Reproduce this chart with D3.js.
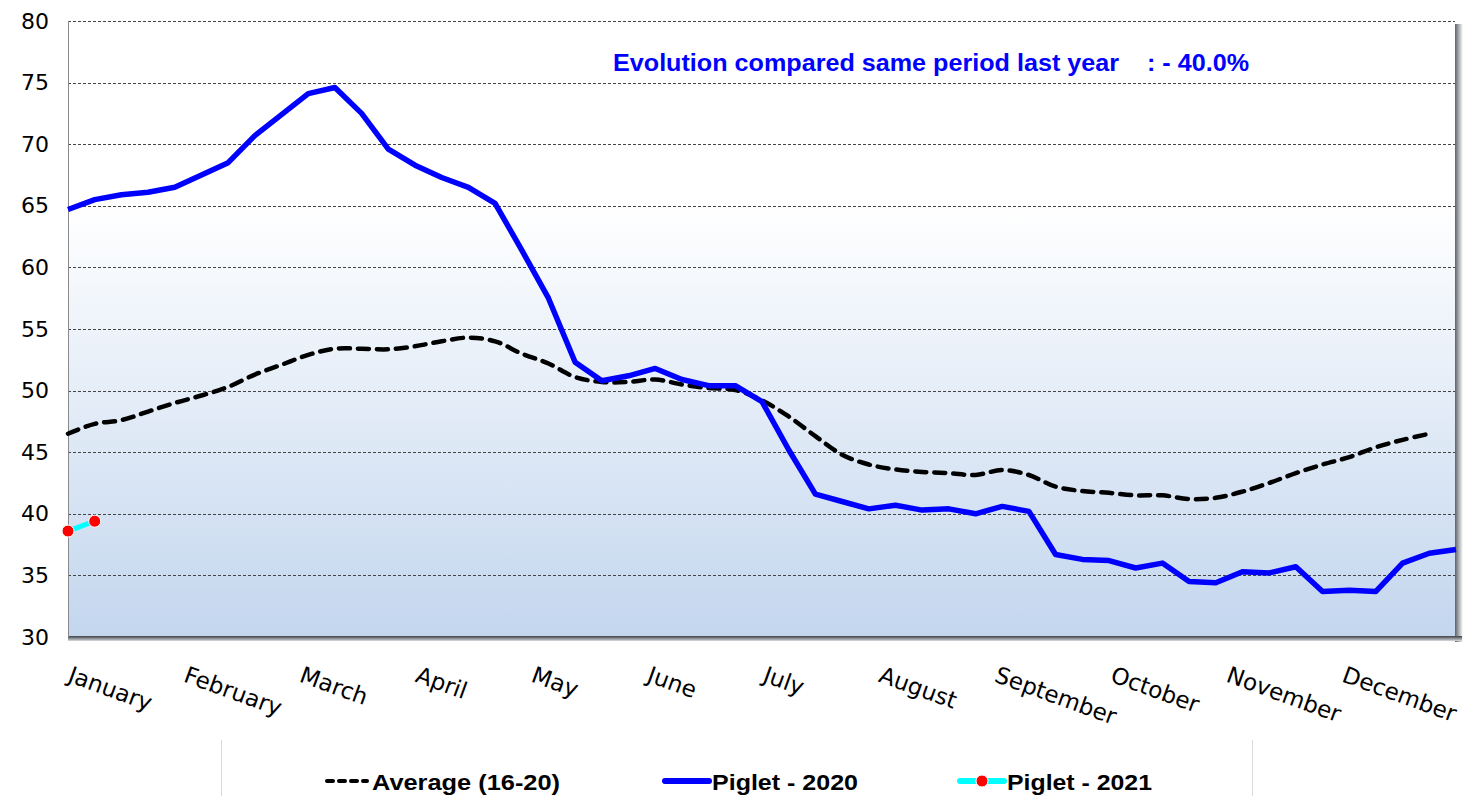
<!DOCTYPE html>
<head>
  <meta charset="utf-8">
  <script src="https://d3js.org/d3.v7.min.js"></script>
  <style>
    body { margin: 0; background: #fff; }
    .ytick text { font-family: "DejaVu Sans", Verdana, sans-serif; font-size: 22px; fill: #000; }
    .grid line { stroke: #444; stroke-width: 1; stroke-dasharray: 3,2; shape-rendering: crispEdges; }
    .month { font-family: "DejaVu Sans", Verdana, sans-serif; font-size: 23px; fill: #000; }
    .legend text { font-family: "Liberation Sans Narrow", "Liberation Sans", Arial, sans-serif; font-weight: bold; font-size: 22px; fill: #000; }
  </style>
</head>
<body>
  <svg width="1464" height="796"></svg>
  <script>
    // weekly values
    var months = ["January", "February", "March", "April", "May", "June",
      "July", "August", "September", "October", "November", "December"];
    var yTicks = [30, 35, 40, 45, 50, 55, 60, 65, 70, 75, 80];
    var average = [46.5, 47.3, 47.6, 48.3, 49.0, 49.6, 50.3, 51.3, 52.1, 52.9,
      53.4, 53.4, 53.35, 53.6, 54.0, 54.3, 54.0, 53.0, 52.2, 51.1,
      50.7, 50.7, 50.9, 50.5, 50.2, 50.05, 49.2, 47.9, 46.3, 44.8,
      44.0, 43.6, 43.4, 43.3, 43.15, 43.55, 43.15, 42.2, 41.85, 41.7,
      41.5, 41.5, 41.2, 41.3, 41.8, 42.5, 43.3, 44.0, 44.6, 45.4,
      46.0, 46.5];
    var piglet2020 = [64.7, 65.5, 65.9, 66.1, 66.5, 67.5, 68.5, 70.7, 72.4, 74.1,
      74.6, 72.5, 69.6, 68.3, 67.3, 66.5, 65.2, 61.4, 57.5, 52.3,
      50.8, 51.2, 51.8, 50.9, 50.4, 50.4, 49.1, 45.2, 41.6, 41.0,
      40.4, 40.7, 40.3, 40.4, 40.0, 40.6, 40.2, 36.7, 36.3, 36.2,
      35.6, 36.0, 34.5, 34.4, 35.3, 35.2, 35.7, 33.7, 33.8, 33.7,
      36.0, 36.8, 37.1];
    var piglet2021 = [38.6, 39.4];
    var title = "Evolution compared same period last year    : - 40.0%";

    var svg = d3.select("svg");
    var pLeft = 68, pRight = 1456, pTop = 21, pBottom = 637;

    var x = d3.scaleLinear().domain([1, 53]).range([pLeft, pRight]);
    var y = d3.scaleLinear().domain([30, 80]).range([pBottom, pTop]);
    var xm = d3.scaleBand().domain(months).range([pLeft, pRight + 2]);

    var defs = svg.append("defs");
    var bg = defs.append("linearGradient").attr("id", "bg")
      .attr("x1", 0).attr("y1", 0).attr("x2", 0).attr("y2", 1);
    bg.append("stop").attr("offset", "0%").attr("stop-color", "#ffffff");
    bg.append("stop").attr("offset", "30%").attr("stop-color", "#ffffff");
    bg.append("stop").attr("offset", "100%").attr("stop-color", "#c3d6ee");

    var sh = defs.append("linearGradient").attr("id", "shadowR")
      .attr("x1", 0).attr("y1", 0).attr("x2", 1).attr("y2", 0);
    sh.append("stop").attr("offset", "0%").attr("stop-color", "#5d6168");
    sh.append("stop").attr("offset", "100%").attr("stop-color", "#ffffff");
    var shb = defs.append("linearGradient").attr("id", "shadowB")
      .attr("x1", 0).attr("y1", 0).attr("x2", 0).attr("y2", 1);
    shb.append("stop").attr("offset", "0%").attr("stop-color", "#3c3f44");
    shb.append("stop").attr("offset", "100%").attr("stop-color", "#d8dbe0");

    // plot area + shadows
    svg.append("rect").attr("x", pRight - 1).attr("y", pTop + 3)
      .attr("width", 8).attr("height", pBottom - pTop + 2)
      .attr("fill", "url(#shadowR)");
    svg.append("rect").attr("x", pLeft).attr("y", pBottom - 1)
      .attr("width", pRight - pLeft + 6).attr("height", 5)
      .attr("fill", "url(#shadowB)");
    svg.append("rect").attr("x", pLeft).attr("y", pTop)
      .attr("width", pRight - pLeft - 1).attr("height", pBottom - pTop - 1)
      .attr("fill", "url(#bg)");

    // gridlines
    svg.append("g").attr("class", "grid")
      .attr("transform", "translate(" + pLeft + ",0)")
      .call(d3.axisRight(y).tickValues(yTicks.filter(function (d) { return d > 30; }))
        .tickSize(pRight - pLeft - 1).tickFormat(""))
      .call(function (g) { g.select(".domain").remove(); });

    // y axis
    svg.append("g").attr("class", "ytick")
      .attr("transform", "translate(" + pLeft + ",0)")
      .call(d3.axisLeft(y).tickValues(yTicks).tickSize(0).tickPadding(19))
      .call(function (g) {
        g.select(".domain").attr("stroke", "#8a8a8a").attr("d", "M0.5," + pTop + "V" + pBottom);
        g.selectAll("text").style("font-size", "22px").style("font-family", "DejaVu Sans");
      });

    // month labels
    svg.append("g").selectAll("text").data(months).join("text")
      .attr("class", "month")
      .attr("transform", function (d) { return "translate(" + (xm(d) + 5) + ",664) rotate(20)"; })
      .attr("dy", "0.8em")
      .text(function (d) { return d; });

    // lines
    var lineSmooth = d3.line().curve(d3.curveCatmullRom.alpha(0.5))
      .x(function (d, i) { return x(i + 1); })
      .y(function (d) { return y(d); });
    var lineStraight = d3.line()
      .x(function (d, i) { return x(i + 1); })
      .y(function (d) { return y(d); });

    svg.append("path").datum(average)
      .attr("d", lineSmooth)
      .attr("fill", "none").attr("stroke", "#000").attr("stroke-width", 4.5)
      .attr("stroke-dasharray", "11,8").attr("stroke-linecap", "round");

    svg.append("path").datum(piglet2020)
      .attr("d", lineStraight)
      .attr("fill", "none").attr("stroke", "#0000ff").attr("stroke-width", 5.5)
      .attr("stroke-linejoin", "round");

    svg.append("path").datum(piglet2021)
      .attr("d", lineStraight)
      .attr("fill", "none").attr("stroke", "#00ffff").attr("stroke-width", 5);
    svg.append("g").selectAll("circle").data(piglet2021).join("circle")
      .attr("cx", function (d, i) { return x(i + 1); })
      .attr("cy", function (d) { return y(d); })
      .attr("r", 6).attr("fill", "#ff0000").attr("stroke", "#fff").attr("stroke-width", 1);

    // title
    svg.append("text")
      .attr("x", 613).attr("y", 71)
      .attr("textLength", 636).attr("lengthAdjust", "spacingAndGlyphs")
      .style("font-family", "Liberation Sans, Arial, sans-serif")
      .style("font-weight", "bold").style("font-size", "24px")
      .style("white-space", "pre")
      .attr("fill", "#0000ff")
      .text(title);

    // legend
    var lg = svg.append("g").attr("class", "legend");
    lg.append("line").attr("x1", 221.5).attr("x2", 221.5).attr("y1", 740).attr("y2", 796)
      .attr("stroke", "#d9d9d9");
    lg.append("line").attr("x1", 1252.5).attr("x2", 1252.5).attr("y1", 740).attr("y2", 796)
      .attr("stroke", "#d9d9d9");

    var items = [
      { name: "Average (16-20)", x: 327, tx: 372, w: 188 },
      { name: "Piglet - 2020", x: 665, tx: 712, w: 146 },
      { name: "Piglet - 2021", x: 960, tx: 1007, w: 145 }
    ];
    var ly = 781;
    lg.append("line").attr("x1", items[0].x).attr("x2", items[0].x + 40).attr("y1", ly).attr("y2", ly)
      .attr("stroke", "#000").attr("stroke-width", 4).attr("stroke-dasharray", "6,6")
      .attr("stroke-linecap", "round");
    lg.append("line").attr("x1", items[1].x).attr("x2", items[1].x + 44).attr("y1", ly).attr("y2", ly)
      .attr("stroke", "#0000ff").attr("stroke-width", 6).attr("stroke-linecap", "round");
    lg.append("line").attr("x1", items[2].x).attr("x2", items[2].x + 44).attr("y1", ly).attr("y2", ly)
      .attr("stroke", "#00ffff").attr("stroke-width", 6).attr("stroke-linecap", "round");
    lg.append("circle").attr("cx", items[2].x + 22).attr("cy", ly).attr("r", 6)
      .attr("fill", "#ff0000").attr("stroke", "#fff");
    lg.selectAll("text").data(items).join("text")
      .attr("x", function (d) { return d.tx; }).attr("y", 790)
      .attr("textLength", function (d) { return d.w; })
      .attr("lengthAdjust", "spacingAndGlyphs")
      .text(function (d) { return d.name; });
  </script>
</body>
